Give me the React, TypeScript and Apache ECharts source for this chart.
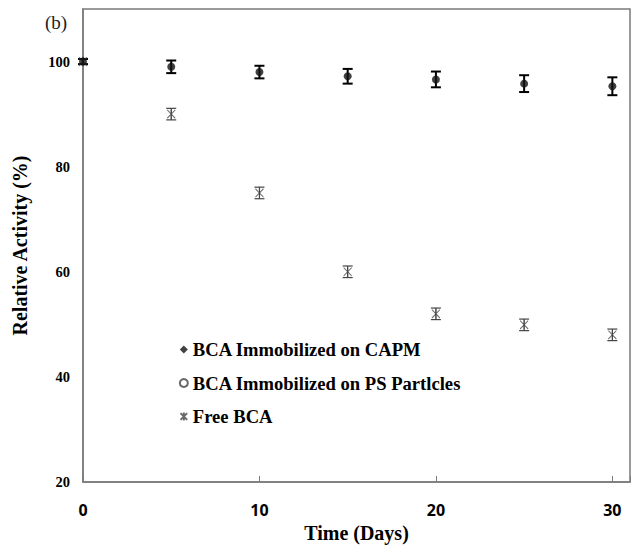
import React, { useEffect, useRef } from "react";
import * as echarts from "echarts";

const days = [0, 5, 10, 15, 20, 25, 30];
const capmValues = [100, 99, 98, 97.2, 96.6, 95.8, 95.3];
const capmErrors = [0.5, 1.2, 1.2, 1.4, 1.5, 1.6, 1.7];
const psValues: number[] = [];
const freeValues = [100, 90, 75, 60, 52, 49.9, 48];
const freeErrors = [0.5, 1.1, 1.1, 1.1, 1.1, 1.1, 1.1];
const xTicks = [0, 10, 20, 30];
const yTicks = [20, 40, 60, 80, 100];

const seriesNames = [
  "BCA Immobilized on CAPM",
  "BCA Immobilized on PS Partlcles",
  "Free BCA",
];

const serif = "'Liberation Serif', 'Times New Roman', serif";

const starPath = "path://M0,0 L10,10 M10,0 L0,10 M5,-1 L5,11";

function errorSeries(values: number[], errors: number[], color: string, cap: number, width: number) {
  return {
    type: "custom",
    silent: true,
    z: 3,
    data: days.map((d, i) => [d, values[i] - errors[i], values[i] + errors[i]]),
    renderItem: (params: any, api: any) => {
      const lo = api.coord([api.value(0), api.value(1)]);
      const hi = api.coord([api.value(0), api.value(2)]);
      const style = { stroke: color, lineWidth: width };
      return {
        type: "group",
        children: [
          { type: "line", shape: { x1: lo[0], y1: lo[1], x2: hi[0], y2: hi[1] }, style },
          { type: "line", shape: { x1: lo[0] - cap, y1: lo[1], x2: lo[0] + cap, y2: lo[1] }, style },
          { type: "line", shape: { x1: hi[0] - cap, y1: hi[1], x2: hi[0] + cap, y2: hi[1] }, style },
        ],
      };
    },
  };
}

export default function App() {
  const ref = useRef<HTMLDivElement>(null);
  useEffect(() => {
    if (!ref.current) return;
    const chart = echarts.init(ref.current, undefined, { renderer: "svg" });
    chart.setOption({
      animation: false,
      backgroundColor: "#ffffff",
      grid: {
        left: 83,
        top: 9,
        right: 6,
        bottom: 64,
        show: true,
        borderColor: "#7a7a7a",
        borderWidth: 1.5,
      },
      graphic: [
        {
          type: "text",
          left: 45,
          top: 13,
          style: { text: "(b)", font: `19px ${serif}`, fill: "#222" },
        },
      ],
      legend: {
        orient: "vertical",
        left: 173,
        top: 335,
        itemGap: 14.5,
        itemWidth: 8,
        itemHeight: 8,
        data: [
          { name: seriesNames[0], icon: "diamond" },
          { name: seriesNames[1], icon: "circle" },
          { name: seriesNames[2], icon: starPath },
        ],
        textStyle: {
          fontFamily: serif,
          fontWeight: "bold",
          fontSize: 18.6,
          lineHeight: 19,
          color: "#000",
        },
      },
      xAxis: {
        type: "value",
        min: 0,
        max: 31,
        interval: 10,
        name: "Time (Days)",
        nameLocation: "middle",
        nameGap: 41,
        nameTextStyle: { fontFamily: serif, fontWeight: "bold", fontSize: 20, color: "#000" },
        axisLine: { show: true, lineStyle: { color: "#7a7a7a", width: 1.5 } },
        axisTick: { show: true, inside: true, length: 6, lineStyle: { color: "#7a7a7a" } },
        axisLabel: {
          margin: 20,
          fontFamily: "'Open Sans', 'Noto Sans', sans-serif",
          fontWeight: "bold",
          fontSize: 16,
          color: "#000",
          formatter: (v: number) => (xTicks.includes(v) ? String(v) : ""),
        },
        splitLine: { show: false },
      },
      yAxis: {
        type: "value",
        min: 20,
        max: 110,
        interval: 20,
        name: "Relative Activity (%)",
        nameLocation: "middle",
        nameGap: 53,
        nameTextStyle: { fontFamily: serif, fontWeight: "bold", fontSize: 20, color: "#000" },
        axisLine: { show: true, lineStyle: { color: "#7a7a7a", width: 1.5 } },
        axisTick: { show: false },
        axisLabel: {
          margin: 13,
          fontFamily: serif,
          fontWeight: "bold",
          fontSize: 14.5,
          color: "#000",
          formatter: (v: number) => (yTicks.includes(v) ? String(v) : ""),
        },
        splitLine: { show: false },
      },
      series: [
        errorSeries(freeValues, freeErrors, "#444", 5, 1.2),
        errorSeries(capmValues, capmErrors, "#000", 5, 2),
        {
          name: seriesNames[2],
          type: "scatter",
          symbol: starPath,
          symbolSize: [8, 10],
          itemStyle: { color: "none", borderColor: "#444", borderWidth: 1 },
          z: 4,
          data: days.map((d, i) => [d, freeValues[i]]),
        },
        {
          name: seriesNames[1],
          type: "scatter",
          symbol: "circle",
          symbolSize: 7,
          itemStyle: { color: "#fff", borderColor: "#444", borderWidth: 1 },
          z: 4,
          data: psValues.map((v, i) => [days[i], v]),
        },
        {
          name: seriesNames[0],
          type: "scatter",
          symbol: "circle",
          symbolSize: 8,
          itemStyle: { color: "#111" },
          z: 5,
          data: days.map((d, i) => [d, capmValues[i]]),
        },
      ],
    });
    return () => chart.dispose();
  }, []);
  return (
    <div
      ref={ref}
      style={{ position: "absolute", left: 0, top: 0, width: 636, height: 548 }}
    />
  );
}
